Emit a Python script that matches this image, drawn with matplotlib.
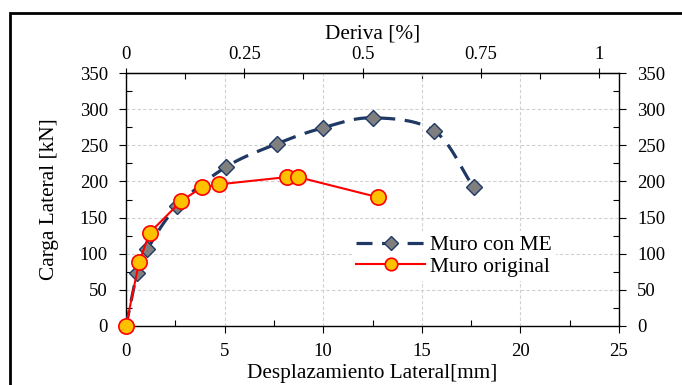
import numpy as np
import matplotlib
matplotlib.use("Agg")
import matplotlib.pyplot as plt
from matplotlib.ticker import MultipleLocator
from matplotlib.patches import Rectangle

plt.rcParams['font.family'] = ['Liberation Serif', 'DejaVu Serif']

# Data
me_disp = [0.0, 0.57, 1.08, 2.6, 5.07, 7.64, 9.97, 12.5, 15.63, 17.63]
me_load = [0, 73, 106, 166, 220, 252, 274, 288, 270, 192]
orig_disp = [0.0, 0.66, 1.2, 2.81, 3.85, 4.73, 8.15, 8.72, 12.8]
orig_load = [0, 88, 129, 173, 192, 196, 206, 206, 178]
xlabel = "Desplazamiento Lateral[mm]"
ylabel = "Carga Lateral [kN]"
toplabel = "Deriva [%]"
wall_height_mm = 2400.0
labels = ["Muro con ME", "Muro original"]


def smooth(x, y, n=20):
    # Catmull-Rom curve through the points (Excel-like smoothed line)
    x = np.asarray(x, float); y = np.asarray(y, float)
    P = np.column_stack([x, y])
    P = np.vstack([P[0] * 2 - P[1], P, P[-1] * 2 - P[-2]])
    out = []
    t = np.linspace(0, 1, n)[:, None]
    for i in range(1, len(P) - 2):
        p0, p1, p2, p3 = P[i - 1], P[i], P[i + 1], P[i + 2]
        seg = 0.5 * ((2 * p1) + (-p0 + p2) * t + (2 * p0 - 5 * p1 + 4 * p2 - p3) * t ** 2
                     + (-p0 + 3 * p1 - 3 * p2 + p3) * t ** 3)
        out.append(seg if i == 1 else seg[1:])
    S = np.vstack(out)
    return S[:, 0], S[:, 1]


fig = plt.figure(figsize=(6.82, 3.85), dpi=100)
ax = fig.add_axes([126 / 682, 1 - 326 / 385, (619 - 126) / 682, (326 - 73) / 385])

navy = '#1F3864'
sx, sy = smooth(me_disp, me_load)
ax.plot(sx, sy, color=navy, lw=2.3, dashes=(5, 3), zorder=3)
ax.plot(me_disp, me_load, ls='none', marker='D', ms=8.5, mfc='#7F7F7F', mec=navy, mew=1.0, zorder=4)
h1, = ax.plot([], [], color=navy, lw=2.3, dashes=(5, 3), marker='D', ms=7, mfc='#7F7F7F', mec=navy, mew=1.0)

ax.plot(orig_disp, orig_load, color='#FF0000', lw=1.5, marker='o', ms=11,
        mfc='#FFC000', mec='#FF0000', mew=1.2, zorder=5, clip_on=False)
h2, = ax.plot([], [], color='#FF0000', lw=1.5, marker='o', ms=9, mfc='#FFC000', mec='#FF0000', mew=1.2)

ax.set_xlim(0, 25)
ax.set_ylim(0, 350)
ax.xaxis.set_major_locator(MultipleLocator(5))
ax.xaxis.set_minor_locator(MultipleLocator(2.5))
ax.yaxis.set_major_locator(MultipleLocator(50))
ax.yaxis.set_minor_locator(MultipleLocator(25))
ax.grid(True, which='major', color='#D0D0D0', ls=(0, (3, 2)), lw=0.8)
ax.set_axisbelow(True)

ax.tick_params(which='major', direction='out', length=5, width=0.8, labelsize=13.5, colors='black')
ax.tick_params(which='minor', direction='in', length=4, width=0.8)
ax.tick_params(axis='y', which='major', pad=8)
ax.tick_params(axis='y', which='both', right=True, labelright=True)
ax.tick_params(axis='x', which='major', pad=7)

for s in ax.spines.values():
    s.set_linewidth(1.0)

ax.set_xlabel(xlabel, fontsize=15.3, labelpad=3)
ax.set_ylabel(ylabel, fontsize=15.3, labelpad=15)

sec = ax.secondary_xaxis('top', functions=(lambda d: d / wall_height_mm * 100,
                                           lambda r: r * wall_height_mm / 100))
sec.set_xticks([0, 0.25, 0.5, 0.75, 1])
sec.set_xticklabels(['0', '0.25', '0.5', '0.75', '1'])
sec.xaxis.set_minor_locator(MultipleLocator(0.125))
sec.tick_params(which='major', direction='inout', length=7, width=0.8, labelsize=13.5, pad=4)
sec.tick_params(which='minor', direction='in', length=4, width=0.8)
sec.set_xlabel(toplabel, fontsize=15.3, labelpad=5)

leg = ax.legend([h1, h2], labels, loc='upper left',
                bbox_to_anchor=((352 - 126) / 493, (326 - 231) / 253),
                frameon=True, fontsize=15.5, handlelength=3.2, handletextpad=0.2,
                labelspacing=0.05, borderpad=0.2, borderaxespad=0)
leg.get_frame().set_facecolor('white')
leg.get_frame().set_edgecolor('none')
leg.get_frame().set_alpha(1)

fig.patches.append(Rectangle((10 / 682, -0.1), 1.2, 1 - 13 / 385 + 0.1,
                             transform=fig.transFigure, fill=False, ec='black', lw=2.0))

fig.savefig('out.png', dpi=100)
